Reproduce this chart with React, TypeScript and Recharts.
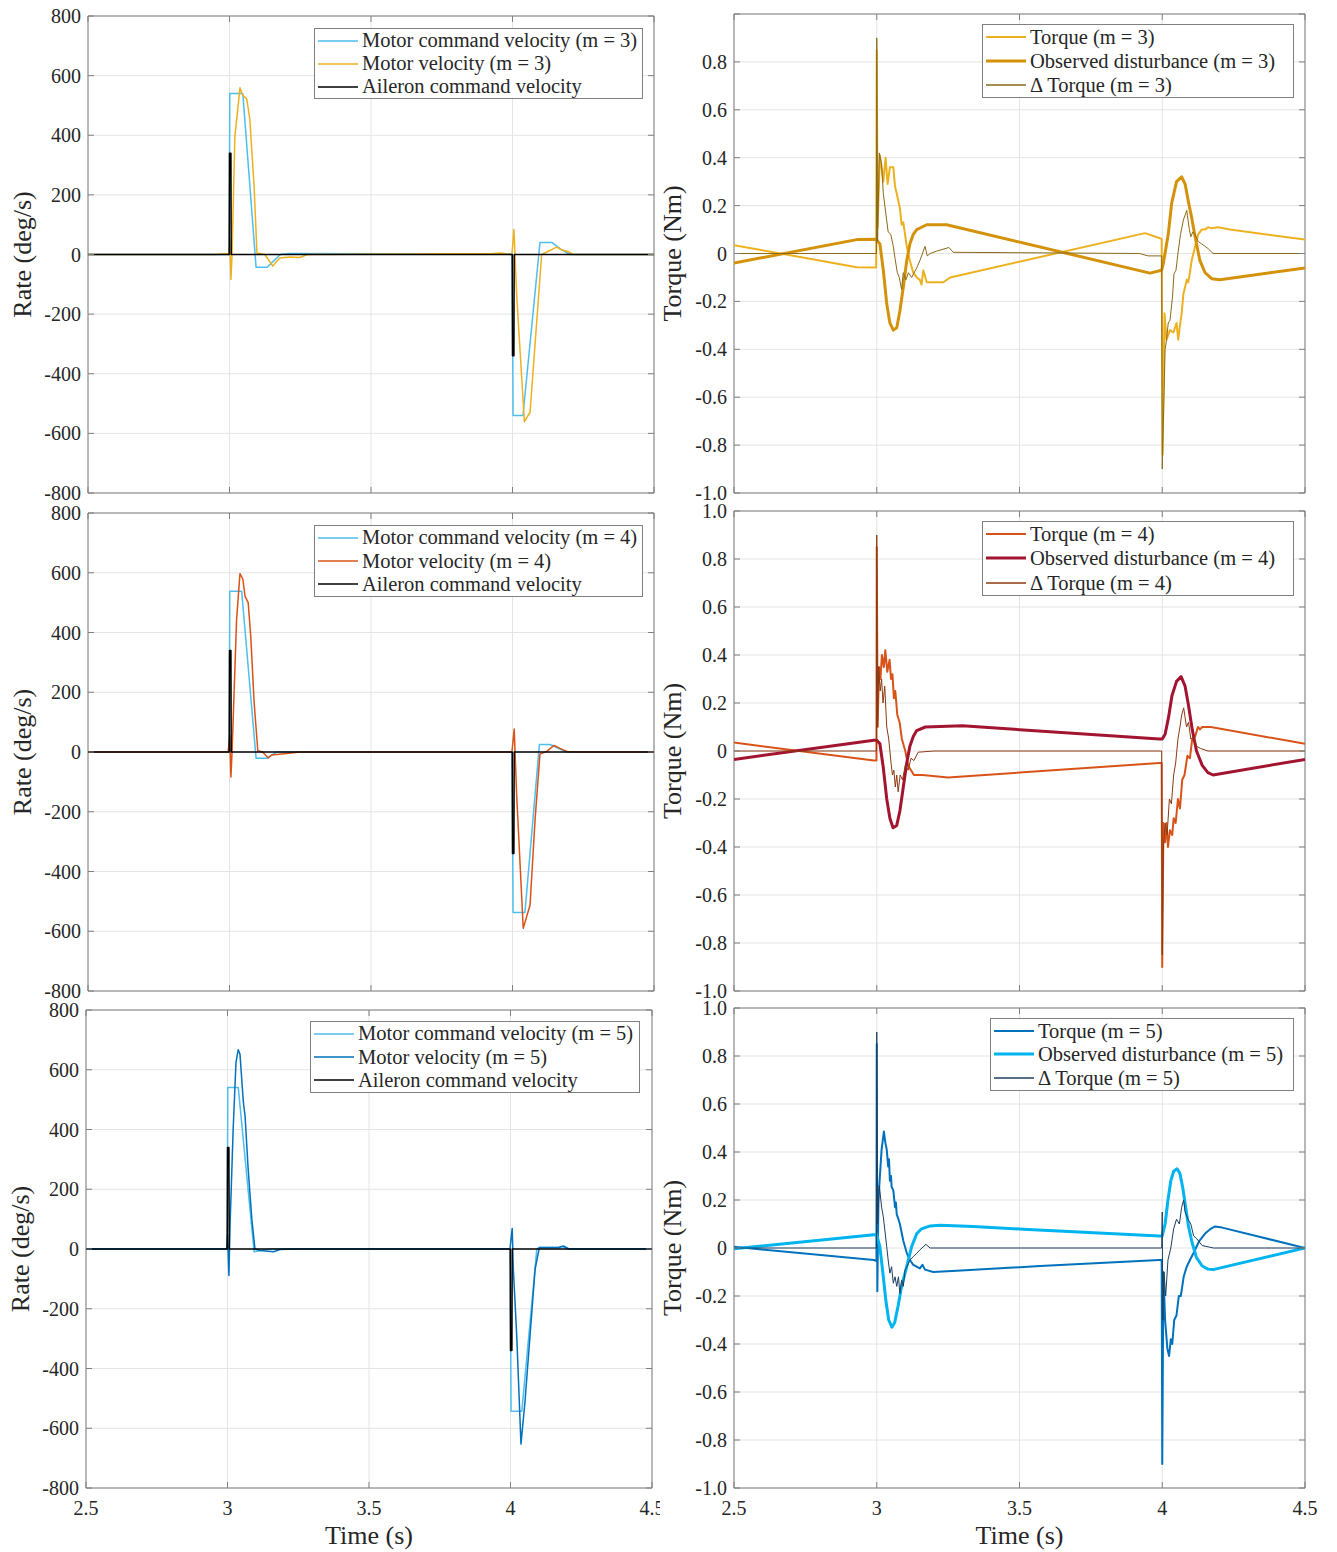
import React from 'react';
import { LineChart, Line, XAxis, YAxis, CartesianGrid, ReferenceArea, Legend, Label } from 'recharts';

type Pt = [number, number];

// axis ticks
const timeTicks = [2.5, 3, 3.5, 4, 4.5];
const rateTicks = [-800, -600, -400, -200, 0, 200, 400, 600, 800];
const torqueTicks = [-1, -0.8, -0.6, -0.4, -0.2, 0, 0.2, 0.4, 0.6, 0.8, 1];

// [time (s), rate (deg/s)]
const aileronCmd: Pt[] = [[2.5, 0], [2.999, 0], [3.0, 340], [3.005, 340], [3.006, 0], [3.999, 0], [4.0, -340], [4.005, -340], [4.006, 0], [4.5, 0]];

const motorCmd3: Pt[] = [[2.5, 0], [2.999, 0], [3.001, 540], [3.047, 540], [3.094, -43], [3.133, -43], [3.16, -18], [3.18, 0], [3.21, 3], [3.999, 2], [4.002, -540], [4.037, -540], [4.097, 40], [4.14, 40], [4.17, 18], [4.203, 0], [4.5, 0]];
const motorVel3: Pt[] = [[2.5, 0], [2.95, 0], [2.99, 3], [2.999, 0], [3.001, 50], [3.005, -84], [3.009, 0], [3.019, 396], [3.037, 559], [3.046, 535], [3.061, 522], [3.072, 452], [3.087, 228], [3.097, 5], [3.125, 0], [3.153, -39], [3.165, -25], [3.178, -12], [3.214, -8], [3.249, -10], [3.275, 0], [3.93, 3], [3.96, 5], [3.99, 0], [3.998, 0], [4.005, 84], [4.015, -140], [4.042, -561], [4.055, -540], [4.062, -530], [4.103, 0], [4.156, 25], [4.175, 15], [4.196, 10], [4.214, 0], [4.5, 0]];

const motorCmd4: Pt[] = [[2.5, 0], [2.999, 0], [3.001, 538], [3.043, 538], [3.094, -21], [3.131, -21], [3.167, 0], [3.999, 0], [4.002, -537], [4.044, -537], [4.095, 25], [4.133, 25], [4.19, 0], [4.5, 0]];
const motorVel4: Pt[] = [[2.5, 0], [2.995, 0], [3.001, 54], [3.005, -84], [3.009, 0], [3.013, 110], [3.025, 443], [3.037, 597], [3.047, 579], [3.055, 521], [3.066, 500], [3.075, 388], [3.087, 166], [3.1, 4], [3.117, 0], [3.137, -20], [3.149, -10], [3.167, -8], [3.202, -5], [3.249, 0], [3.998, 0], [4.006, 77], [4.015, -150], [4.038, -590], [4.05, -551], [4.062, -512], [4.08, -223], [4.097, -7], [4.121, 2], [4.147, 22], [4.168, 12], [4.193, 2], [4.22, 0], [4.5, 0]];

const motorCmd5: Pt[] = [[2.5, 0], [2.999, 0], [3.001, 541], [3.038, 541], [3.094, -9], [3.15, 0], [3.999, 0], [4.002, -543], [4.04, -543], [4.093, 0], [4.1, 5], [4.17, 5], [4.181, 8], [4.2, 2], [4.22, 0], [4.5, 0]];
const motorVel5: Pt[] = [[2.5, 0], [2.997, 0], [3.0, 50], [3.005, -89], [3.009, 78], [3.02, 401], [3.03, 625], [3.038, 667], [3.044, 653], [3.056, 492], [3.062, 446], [3.073, 268], [3.086, 100], [3.097, 0], [3.115, -5], [3.162, -9], [3.186, -2], [3.24, 0], [3.998, 0], [4.006, 69], [4.01, -67], [4.022, -290], [4.037, -653], [4.051, -513], [4.069, -290], [4.087, -67], [4.102, 5], [4.17, 5], [4.187, 10], [4.207, 0], [4.5, 0]];

// [time (s), torque (Nm)]
const torque3: Pt[] = [[2.5, 0.035], [2.93, -0.057], [2.998, -0.058], [3.0, 0.85], [3.003, 0.11], [3.011, 0.41], [3.017, 0.36], [3.023, 0.3], [3.031, 0.4], [3.038, 0.29], [3.046, 0.36], [3.058, 0.36], [3.064, 0.28], [3.07, 0.25], [3.081, 0.19], [3.087, 0.12], [3.093, 0.13], [3.105, 0.03], [3.116, -0.03], [3.128, -0.08], [3.14, -0.1], [3.151, -0.11], [3.157, -0.13], [3.163, -0.07], [3.175, -0.12], [3.187, -0.12], [3.233, -0.12], [3.257, -0.1], [3.94, 0.085], [3.99, 0.065], [3.998, 0.06], [4.001, -0.84], [4.008, -0.25], [4.015, -0.36], [4.027, -0.32], [4.039, -0.33], [4.05, -0.29], [4.056, -0.36], [4.062, -0.3], [4.068, -0.25], [4.074, -0.17], [4.086, -0.11], [4.091, -0.12], [4.097, -0.08], [4.103, -0.03], [4.115, 0.03], [4.126, 0.08], [4.138, 0.1], [4.15, 0.1], [4.161, 0.11], [4.173, 0.105], [4.196, 0.11], [4.237, 0.1], [4.5, 0.058]];
const observed3: Pt[] = [[2.5, -0.04], [2.93, 0.058], [2.995, 0.06], [3.0, 0.055], [3.011, 0.04], [3.023, -0.07], [3.035, -0.21], [3.046, -0.29], [3.058, -0.32], [3.07, -0.31], [3.081, -0.24], [3.093, -0.14], [3.105, -0.03], [3.116, 0.04], [3.128, 0.08], [3.14, 0.1], [3.175, 0.12], [3.245, 0.12], [3.957, -0.082], [3.998, -0.07], [4.004, -0.04], [4.021, 0.08], [4.033, 0.21], [4.05, 0.3], [4.068, 0.32], [4.08, 0.29], [4.091, 0.22], [4.103, 0.15], [4.115, 0.07], [4.132, -0.03], [4.15, -0.08], [4.173, -0.105], [4.202, -0.11], [4.5, -0.06]];
const deltaTorque3: Pt[] = [[2.5, 0], [2.999, 0], [3.0, 0.9], [3.003, 0.05], [3.009, 0.42], [3.017, 0.37], [3.023, 0.25], [3.04, 0.09], [3.049, 0.08], [3.058, 0.03], [3.064, -0.02], [3.072, -0.08], [3.079, -0.1], [3.087, -0.15], [3.093, -0.08], [3.102, -0.11], [3.111, -0.08], [3.122, -0.1], [3.14, -0.06], [3.151, -0.03], [3.169, 0.03], [3.177, -0.01], [3.187, 0.0], [3.21, 0.01], [3.253, 0.025], [3.268, 0.005], [3.92, 0.0], [3.95, -0.01], [3.998, -0.01], [4.0, -0.9], [4.01, -0.4], [4.015, -0.36], [4.021, -0.29], [4.027, -0.28], [4.036, -0.18], [4.041, -0.085], [4.048, -0.07], [4.056, 0.01], [4.064, 0.08], [4.074, 0.14], [4.086, 0.18], [4.088, 0.16], [4.095, 0.1], [4.1, 0.07], [4.107, 0.09], [4.115, 0.08], [4.126, 0.05], [4.138, 0.04], [4.15, 0.03], [4.161, 0.02], [4.178, 0.0], [4.5, 0]];

const torque4: Pt[] = [[2.5, 0.035], [2.99, -0.04], [2.999, -0.04], [3.0, 0.85], [3.003, 0.1], [3.008, 0.35], [3.013, 0.3], [3.018, 0.4], [3.025, 0.35], [3.03, 0.42], [3.037, 0.33], [3.045, 0.38], [3.05, 0.3], [3.055, 0.32], [3.06, 0.22], [3.065, 0.25], [3.072, 0.15], [3.08, 0.12], [3.088, 0.05], [3.1, 0.0], [3.11, -0.06], [3.12, -0.08], [3.13, -0.1], [3.16, -0.1], [3.25, -0.11], [3.99, -0.05], [3.998, -0.05], [4.0, -0.9], [4.004, -0.3], [4.01, -0.38], [4.015, -0.3], [4.02, -0.4], [4.027, -0.33], [4.035, -0.35], [4.04, -0.28], [4.047, -0.3], [4.055, -0.2], [4.062, -0.24], [4.07, -0.12], [4.078, -0.1], [4.088, -0.02], [4.097, -0.03], [4.105, 0.05], [4.115, 0.06], [4.125, 0.1], [4.132, 0.09], [4.14, 0.1], [4.17, 0.1], [4.5, 0.03]];
const observed4: Pt[] = [[2.5, -0.035], [2.99, 0.045], [3.0, 0.045], [3.011, 0.03], [3.023, -0.07], [3.035, -0.2], [3.046, -0.28], [3.057, -0.32], [3.07, -0.31], [3.081, -0.25], [3.093, -0.15], [3.105, -0.05], [3.116, 0.02], [3.128, 0.06], [3.14, 0.085], [3.17, 0.1], [3.3, 0.105], [3.99, 0.05], [4.0, 0.05], [4.01, 0.07], [4.022, 0.14], [4.034, 0.23], [4.05, 0.29], [4.066, 0.31], [4.08, 0.27], [4.092, 0.19], [4.105, 0.09], [4.12, 0.0], [4.14, -0.06], [4.16, -0.09], [4.178, -0.1], [4.5, -0.035]];
const deltaTorque4: Pt[] = [[2.5, 0], [2.999, 0], [3.0, 0.9], [3.003, 0.1], [3.007, 0.35], [3.012, 0.25], [3.017, 0.3], [3.022, 0.2], [3.028, 0.27], [3.035, 0.1], [3.042, 0.05], [3.05, -0.05], [3.055, -0.1], [3.06, -0.08], [3.065, -0.15], [3.07, -0.1], [3.075, -0.17], [3.082, -0.1], [3.09, -0.12], [3.1, -0.06], [3.11, -0.08], [3.12, -0.03], [3.13, -0.04], [3.145, -0.005], [3.2, 0.0], [3.998, 0], [4.0, -0.85], [4.004, -0.4], [4.01, -0.3], [4.017, -0.35], [4.025, -0.2], [4.032, -0.22], [4.04, -0.1], [4.047, -0.05], [4.055, 0.05], [4.062, 0.1], [4.068, 0.15], [4.075, 0.18], [4.08, 0.14], [4.085, 0.1], [4.092, 0.12], [4.1, 0.05], [4.11, 0.06], [4.12, 0.02], [4.135, 0.01], [4.16, 0.0], [4.5, 0]];

const torque5: Pt[] = [[2.5, 0.005], [2.99, -0.05], [2.999, -0.054], [3.0, 0.85], [3.002, -0.18], [3.006, 0.2], [3.011, 0.3], [3.017, 0.41], [3.025, 0.485], [3.03, 0.44], [3.035, 0.41], [3.04, 0.34], [3.043, 0.37], [3.046, 0.28], [3.05, 0.3], [3.052, 0.255], [3.058, 0.24], [3.064, 0.17], [3.067, 0.19], [3.07, 0.14], [3.076, 0.12], [3.081, 0.1], [3.093, 0.03], [3.105, -0.02], [3.116, -0.05], [3.128, -0.07], [3.151, -0.085], [3.16, -0.07], [3.169, -0.09], [3.198, -0.1], [3.28, -0.095], [3.572, -0.075], [3.99, -0.05], [3.998, -0.05], [4.0, -0.9], [4.004, -0.1], [4.01, -0.3], [4.018, -0.42], [4.024, -0.45], [4.03, -0.38], [4.035, -0.4], [4.042, -0.3], [4.05, -0.28], [4.058, -0.2], [4.065, -0.2], [4.075, -0.12], [4.085, -0.08], [4.097, -0.05], [4.11, -0.02], [4.13, 0.03], [4.15, 0.06], [4.17, 0.08], [4.185, 0.09], [4.21, 0.085], [4.5, 0.0]];
const observed5: Pt[] = [[2.5, -0.003], [2.99, 0.055], [3.0, 0.055], [3.011, 0.005], [3.023, -0.12], [3.032, -0.22], [3.042, -0.3], [3.053, -0.33], [3.063, -0.31], [3.075, -0.24], [3.087, -0.16], [3.105, -0.078], [3.122, 0.005], [3.14, 0.06], [3.157, 0.08], [3.187, 0.092], [3.222, 0.095], [3.338, 0.09], [3.513, 0.078], [3.99, 0.05], [4.0, 0.05], [4.01, 0.1], [4.02, 0.2], [4.03, 0.28], [4.04, 0.32], [4.052, 0.33], [4.062, 0.31], [4.072, 0.25], [4.082, 0.17], [4.092, 0.09], [4.105, 0.02], [4.12, -0.04], [4.14, -0.075], [4.16, -0.088], [4.178, -0.09], [4.5, 0.0]];
const deltaTorque5: Pt[] = [[2.5, 0], [2.999, 0], [3.0, 0.9], [3.003, 0.1], [3.009, 0.26], [3.017, 0.17], [3.023, 0.13], [3.035, 0.005], [3.04, -0.05], [3.046, -0.105], [3.052, -0.078], [3.058, -0.147], [3.064, -0.12], [3.07, -0.16], [3.076, -0.12], [3.081, -0.19], [3.087, -0.133], [3.093, -0.16], [3.099, -0.092], [3.105, -0.08], [3.116, -0.05], [3.128, -0.036], [3.14, -0.022], [3.151, -0.008], [3.172, 0.015], [3.187, 0.0], [3.998, 0], [4.0, 0.15], [4.002, -0.3], [4.006, -0.1], [4.012, -0.2], [4.02, -0.05], [4.03, 0.0], [4.04, 0.08], [4.05, 0.12], [4.06, 0.1], [4.068, 0.17], [4.075, 0.2], [4.08, 0.15], [4.09, 0.12], [4.1, 0.1], [4.11, 0.05], [4.12, 0.04], [4.14, 0.01], [4.18, 0.0], [4.5, 0]];

const FONT = "'Liberation Serif', 'DejaVu Serif', serif";
const INK = '#262626';
const FRAME = '#808080';
const Y_AXIS_W = 86;
const TOP_PAD = 12;
const TICK_FONT = 20;
const LABEL_FONT = 26;

interface Series {
  name: string;
  data: Pt[];
  color: string;
  width: number;
}

interface Box { x: number; y: number; w: number; h: number }

interface PanelProps {
  plot: Box; // plot area in page pixels
  right: number;
  yDomain: [number, number];
  yTicks: number[];
  yFormat: (v: number) => string;
  hideTopLabel?: boolean;
  yLabel: string;
  yLabelX: number;
  bottom: boolean;
  series: Series[];
  legend: Box;
}

const toRows = (pts: Pt[]) => pts.map(([t, v]) => ({ t, v }));
const fmtTime = (v: number) => String(v);
const fmtRate = (v: number) => String(v);
const fmtTorque = (v: number) => (v === 0 ? '0' : v.toFixed(1));

const LegendBox = ({ items, w, h }: { items: Series[]; w: number; h: number }) => {
  const rowH = (h - 2) / items.length;
  return (
    <div
      style={{
        width: w,
        height: h,
        boxSizing: 'border-box',
        border: `1px solid ${FRAME}`,
        background: '#fff',
        paddingLeft: 3,
        fontFamily: FONT,
        fontSize: 20.5,
        color: INK,
      }}
    >
      {items.map((s) => (
        <div key={s.name} style={{ display: 'flex', alignItems: 'center', height: rowH }}>
          <svg width={40} height={6} style={{ flex: 'none' }}>
            <line x1={0} x2={40} y1={3} y2={3} stroke={s.color} strokeWidth={Math.max(s.width, 1.5)} />
          </svg>
          <span style={{ marginLeft: 4, whiteSpace: 'nowrap', lineHeight: 1 }}>{s.name}</span>
        </div>
      ))}
    </div>
  );
};

const Panel = (p: PanelProps) => {
  const xAxisH = p.bottom ? 62 : 16;
  const width = Y_AXIS_W + p.plot.w + p.right;
  const height = TOP_PAD + p.plot.h + xAxisH;
  const originX = p.plot.x - Y_AXIS_W;
  const originY = p.plot.y - TOP_PAD;
  const left = Y_AXIS_W;
  const rightEdge = Y_AXIS_W + p.plot.w;
  const top = TOP_PAD;
  const bottomEdge = TOP_PAD + p.plot.h;
  const textStyle = { fontFamily: FONT, fontSize: TICK_FONT, fill: INK };

  const yTick = (props: any) => {
    const { y, payload } = props;
    const v = payload.value as number;
    const show = !(p.hideTopLabel && v === p.yDomain[1]);
    return (
      <g>
        <line x1={left} x2={left + 6} y1={y} y2={y} stroke={FRAME} />
        <line x1={rightEdge - 6} x2={rightEdge} y1={y} y2={y} stroke={FRAME} />
        {show && (
          <text x={left - 7} y={y} textAnchor="end" dominantBaseline="central" style={textStyle}>
            {p.yFormat(v)}
          </text>
        )}
      </g>
    );
  };

  const xTick = (props: any) => {
    const { x, payload } = props;
    return (
      <g>
        <line x1={x} x2={x} y1={bottomEdge - 6} y2={bottomEdge} stroke={FRAME} />
        <line x1={x} x2={x} y1={top} y2={top + 6} stroke={FRAME} />
        {p.bottom && (
          <text x={x} y={bottomEdge + 20} textAnchor="middle" dominantBaseline="central" style={textStyle}>
            {fmtTime(payload.value)}
          </text>
        )}
      </g>
    );
  };

  return (
    <div style={{ position: 'absolute', left: originX, top: originY, width, height, overflow: 'hidden' }}>
      <LineChart width={width} height={height} margin={{ top: TOP_PAD, right: p.right, bottom: 0, left: 0 }}>
        <CartesianGrid stroke="#e4e4e4" />
        <XAxis
          type="number"
          dataKey="t"
          domain={[2.5, 4.5]}
          ticks={timeTicks}
          interval={0}
          allowDataOverflow
          height={xAxisH}
          tickLine={false}
          axisLine={false}
          tick={xTick}
        >
          {p.bottom && (
            <Label value="Time (s)" position="insideBottom" offset={6} style={{ fontSize: LABEL_FONT, fontFamily: FONT, fill: INK }} />
          )}
        </XAxis>
        <YAxis
          type="number"
          domain={p.yDomain}
          ticks={p.yTicks}
          interval={0}
          allowDataOverflow
          width={Y_AXIS_W}
          tickLine={false}
          axisLine={false}
          tick={yTick}
        >
          <Label
            value={p.yLabel}
            angle={-90}
            position="insideLeft"
            offset={p.yLabelX - originX}
            style={{ textAnchor: 'middle', fontSize: LABEL_FONT, fontFamily: FONT, fill: INK }}
          />
        </YAxis>
        {p.series.map((s) => (
          <Line
            key={s.name}
            data={toRows(s.data)}
            dataKey="v"
            name={s.name}
            type="linear"
            stroke={s.color}
            strokeWidth={s.width}
            strokeLinejoin="round"
            dot={false}
            activeDot={false}
            isAnimationActive={false}
          />
        ))}
        <ReferenceArea x1={2.5} x2={4.5} y1={p.yDomain[0]} y2={p.yDomain[1]} fill="none" stroke={FRAME} ifOverflow="visible" />
        <Legend
          layout="vertical"
          align="center"
          verticalAlign="middle"
          wrapperStyle={{ top: p.legend.y - originY, left: p.legend.x - originX, width: p.legend.w, height: p.legend.h }}
          content={() => <LegendBox items={p.series} w={p.legend.w} h={p.legend.h} />}
        />
      </LineChart>
    </div>
  );
};

const CMD = '#4DBEEE';
const AIL = '#000000';

const rateSeries = (m: number, vel: Pt[], cmd: Pt[], color: string): Series[] => [
  { name: `Motor command velocity (m = ${m})`, data: cmd, color: CMD, width: 1.5 },
  { name: `Motor velocity (m = ${m})`, data: vel, color, width: 1.5 },
  { name: 'Aileron command velocity', data: aileronCmd, color: AIL, width: 1.5 },
];

const torqueSeries = (m: number, tq: Pt[], obs: Pt[], dt: Pt[], c: [string, string, string]): Series[] => [
  { name: `Torque (m = ${m})`, data: tq, color: c[0], width: 2 },
  { name: `Observed disturbance (m = ${m})`, data: obs, color: c[1], width: 3 },
  { name: `\u0394 Torque (m = ${m})`, data: dt, color: c[2], width: 1 },
];

export default function App() {
  return (
    <div style={{ position: 'absolute', left: 0, top: 0, width: 1337, height: 1552, background: '#fff' }}>
      <Panel
        plot={{ x: 88, y: 16, w: 566, h: 477 }}
        right={8}
        yDomain={[-800, 800]}
        yTicks={rateTicks}
        yFormat={fmtRate}
        yLabel="Rate (deg/s)"
        yLabelX={22}
        bottom={false}
        series={rateSeries(3, motorVel3, motorCmd3, '#EDB120')}
        legend={{ x: 314, y: 28, w: 329, h: 71 }}
      />
      <Panel
        plot={{ x: 88, y: 513, w: 566, h: 478 }}
        right={8}
        yDomain={[-800, 800]}
        yTicks={rateTicks}
        yFormat={fmtRate}
        yLabel="Rate (deg/s)"
        yLabelX={22}
        bottom={false}
        series={rateSeries(4, motorVel4, motorCmd4, '#D95319')}
        legend={{ x: 314, y: 525, w: 329, h: 72 }}
      />
      <Panel
        plot={{ x: 86, y: 1010, w: 566, h: 478 }}
        right={8}
        yDomain={[-800, 800]}
        yTicks={rateTicks}
        yFormat={fmtRate}
        yLabel="Rate (deg/s)"
        yLabelX={20}
        bottom
        series={rateSeries(5, motorVel5, motorCmd5, '#0072BD')}
        legend={{ x: 310, y: 1021, w: 330, h: 72 }}
      />
      <Panel
        plot={{ x: 734, y: 14, w: 571, h: 479 }}
        right={24}
        yDomain={[-1, 1]}
        yTicks={torqueTicks}
        yFormat={fmtTorque}
        hideTopLabel
        yLabel="Torque (Nm)"
        yLabelX={672}
        bottom={false}
        series={torqueSeries(3, torque3, observed3, deltaTorque3, ['#EDB120', '#D4920B', '#8A6A1A'])}
        legend={{ x: 982, y: 24, w: 312, h: 74 }}
      />
      <Panel
        plot={{ x: 734, y: 511, w: 571, h: 480 }}
        right={24}
        yDomain={[-1, 1]}
        yTicks={torqueTicks}
        yFormat={fmtTorque}
        yLabel="Torque (Nm)"
        yLabelX={672}
        bottom={false}
        series={torqueSeries(4, torque4, observed4, deltaTorque4, ['#D95319', '#A2142F', '#8B3A12'])}
        legend={{ x: 982, y: 521, w: 312, h: 75 }}
      />
      <Panel
        plot={{ x: 734, y: 1008, w: 571, h: 480 }}
        right={24}
        yDomain={[-1, 1]}
        yTicks={torqueTicks}
        yFormat={fmtTorque}
        yLabel="Torque (Nm)"
        yLabelX={672}
        bottom
        series={torqueSeries(5, torque5, observed5, deltaTorque5, ['#0072BD', '#00B4F0', '#1E3F5F'])}
        legend={{ x: 990, y: 1018, w: 304, h: 73 }}
      />
    </div>
  );
}
